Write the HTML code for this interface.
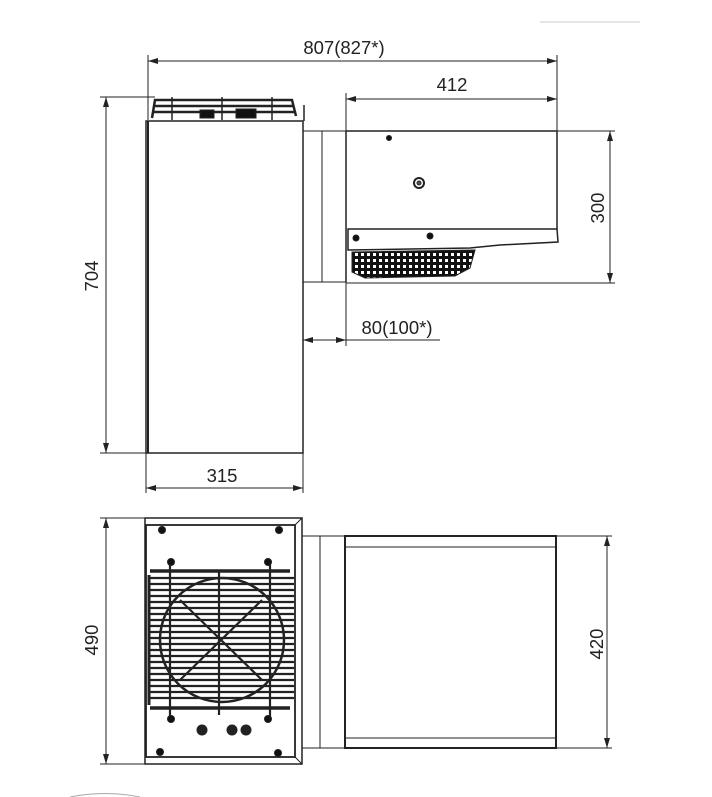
<!DOCTYPE html>
<html><head><style>
html,body{margin:0;padding:0;background:#fff;}
svg{display:block}
text{font-family:"Liberation Sans",sans-serif;font-size:18.5px;fill:#222}
</style></head><body>
<svg width="712" height="797" viewBox="0 0 712 797" xmlns="http://www.w3.org/2000/svg">
<defs>
<marker id="a" viewBox="0 0 10 6" refX="10" refY="3" markerWidth="10" markerHeight="6" orient="auto-start-reverse" markerUnits="userSpaceOnUse"><path d="M0,0L10,3L0,6z" fill="#222"/></marker>
<pattern id="g" width="6" height="6" patternUnits="userSpaceOnUse"><rect width="6" height="6" fill="#111"/><rect x="1" y="1" width="3" height="3" fill="#fff"/></pattern>
</defs>
<g stroke="#222" fill="none" stroke-width="1">
<line x1="540" y1="22" x2="640" y2="22" stroke="#ccc"/>
<line x1="148" y1="55" x2="148" y2="120"/>
<line x1="557" y1="55" x2="557" y2="232"/>
<line x1="148" y1="61" x2="557" y2="61" marker-start="url(#a)" marker-end="url(#a)"/>
<line x1="346" y1="93" x2="346" y2="131"/>
<line x1="346" y1="99" x2="557" y2="99" marker-start="url(#a)" marker-end="url(#a)"/>
<line x1="100" y1="97" x2="155" y2="97"/>
<line x1="100" y1="453" x2="146" y2="453"/>
<line x1="106" y1="97" x2="106" y2="453" marker-start="url(#a)" marker-end="url(#a)"/>
<rect x="146" y="121" width="157" height="332" stroke-width="1.5"/>
<line x1="148" y1="121" x2="148" y2="453" stroke-width="2"/>
<path d="M152 118 L155 100 L292 100 L296 116 M154 106 L293 106 M153 112 L294 112" stroke-width="2.5"/>
<line x1="172" y1="97" x2="172" y2="120" stroke-width="1.5"/><line x1="222" y1="97" x2="222" y2="120" stroke-width="1.5"/><line x1="272" y1="97" x2="272" y2="120" stroke-width="1.5"/>
<rect x="200" y="110" width="14" height="8" fill="#111"/><rect x="236" y="109" width="20" height="9" fill="#111"/>
<line x1="304" y1="105" x2="304" y2="121" stroke-width="1.5"/>
<rect x="303" y="131" width="43" height="151"/>
<line x1="322" y1="131" x2="322" y2="282"/>
<path d="M346 131 L557 131 L557 229" stroke-width="1.5"/>
<line x1="346" y1="131" x2="346" y2="282" stroke-width="1.5"/>
<path d="M348 229 L557 229 L558 242 L500 245 L470 248 L348 250 Z" stroke-width="1.5"/>
<path d="M352 252 L475 250 L470 268 L455 276 L365 278 L352 272 Z" fill="url(#g)"/>
<circle cx="389" cy="138" r="2.5" fill="#111"/>
<circle cx="419" cy="183" r="5" stroke-width="2"/><circle cx="419" cy="183" r="2" fill="#555"/>
<circle cx="356" cy="238" r="3" fill="#111"/><circle cx="430" cy="236" r="3" fill="#111"/>
<line x1="557" y1="131" x2="615" y2="131"/>
<line x1="346" y1="283" x2="615" y2="283"/>
<line x1="610" y1="131" x2="610" y2="283" marker-start="url(#a)" marker-end="url(#a)"/>
<line x1="303" y1="282" x2="303" y2="453"/>
<line x1="346" y1="282" x2="346" y2="346"/>
<line x1="303" y1="340" x2="346" y2="340" marker-start="url(#a)" marker-end="url(#a)"/>
<line x1="346" y1="340" x2="440" y2="340"/>
<line x1="146" y1="453" x2="146" y2="493"/>
<line x1="303" y1="453" x2="303" y2="493"/>
<line x1="146" y1="488" x2="303" y2="488" marker-start="url(#a)" marker-end="url(#a)"/>

<line x1="100" y1="518" x2="150" y2="518"/>
<line x1="100" y1="764" x2="150" y2="764"/>
<line x1="106" y1="518" x2="106" y2="764" marker-start="url(#a)" marker-end="url(#a)"/>
<rect x="145" y="518" width="157" height="246" stroke-width="1.5"/>
<rect x="146" y="525" width="149" height="232" stroke-width="1.8"/>
<line x1="295" y1="525" x2="302" y2="518"/><line x1="295" y1="757" x2="302" y2="764"/>
<g stroke-width="2.2">
<line x1="150" y1="571" x2="290" y2="571" stroke-width="3.5"/>
<line x1="150" y1="708" x2="290" y2="708" stroke-width="3.5"/>
<path d="M149 578H294M149 584H294M149 590H294M149 596H294M149 602H294M149 608H294M149 614H294M149 620H294M149 626H294M149 632H294M149 638H294M149 644H294M149 650H294M149 656H294M149 662H294M149 668H294M149 674H294M149 680H294M149 686H294M149 692H294M149 698H294"/>
<line x1="149" y1="575" x2="149" y2="705" stroke-width="3"/>
<circle cx="222" cy="640" r="62" stroke-width="2.5"/>
<line x1="170" y1="560" x2="170" y2="718"/><line x1="270" y1="560" x2="270" y2="718"/><line x1="219" y1="570" x2="219" y2="715"/>
<path d="M180 600 L262 680 M262 600 L180 680"/>
</g>
<circle cx="162" cy="530" r="3.5" fill="#111"/><circle cx="279" cy="530" r="3.5" fill="#111"/>
<circle cx="171" cy="562" r="3.5" fill="#111"/><circle cx="268" cy="562" r="3.5" fill="#111"/>
<circle cx="171" cy="719" r="3.5" fill="#111"/><circle cx="268" cy="719" r="3.5" fill="#111"/>
<circle cx="160" cy="752" r="3.5" fill="#111"/><circle cx="278" cy="753" r="3.5" fill="#111"/>
<circle cx="202" cy="730" r="5" fill="#222"/><circle cx="232" cy="730" r="5" fill="#222"/><circle cx="246" cy="730" r="5" fill="#222"/>
<rect x="302" y="536" width="43" height="212"/>
<line x1="320" y1="536" x2="320" y2="748"/>
<rect x="345" y="536" width="211" height="212" stroke-width="2"/>
<line x1="345" y1="547" x2="556" y2="547"/><line x1="345" y1="738" x2="556" y2="738"/>
<line x1="556" y1="536" x2="612" y2="536"/><line x1="556" y1="748" x2="612" y2="748"/>
<line x1="607" y1="536" x2="607" y2="748" marker-start="url(#a)" marker-end="url(#a)"/>
<path d="M70 797 Q105 790 140 797" stroke="#aaa"/>
</g>
<text x="344" y="54" text-anchor="middle">807(827*)</text>
<text x="452" y="91" text-anchor="middle">412</text>
<text x="397" y="334" text-anchor="middle">80(100*)</text>
<text x="222" y="482" text-anchor="middle">315</text>
<text transform="translate(98,276) rotate(-90)" text-anchor="middle">704</text>
<text transform="translate(604,208) rotate(-90)" text-anchor="middle">300</text>
<text transform="translate(98,640) rotate(-90)" text-anchor="middle">490</text>
<text transform="translate(603,644) rotate(-90)" text-anchor="middle">420</text>
</svg>
</body></html>
